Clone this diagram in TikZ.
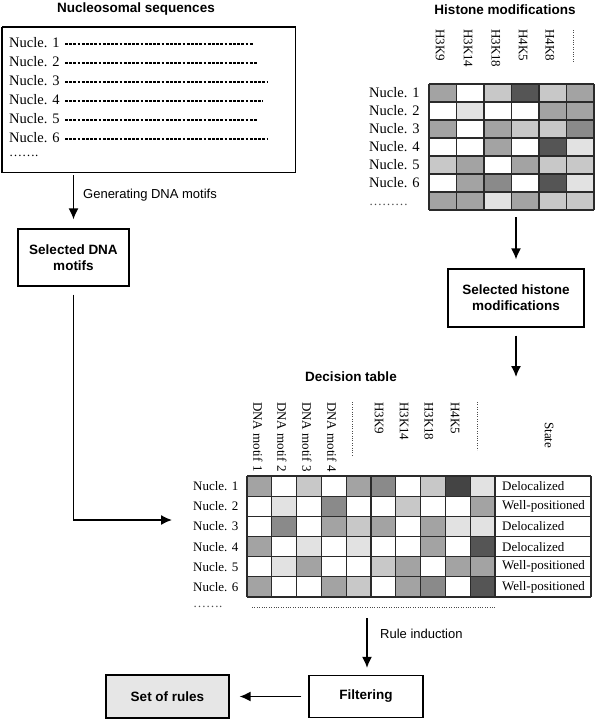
\documentclass[tikz,border=0pt]{standalone}
\usepackage{fontspec}
\setmainfont{Liberation Serif}
\setsansfont{Liberation Sans}
\usetikzlibrary{arrows.meta}
\colorlet{cW}{white}
\definecolor{cV}{HTML}{E2E2E2}
\definecolor{cL}{HTML}{C8C8C8}
\definecolor{cM}{HTML}{A3A3A3}
\definecolor{cK}{HTML}{8A8A8A}
\definecolor{cD}{HTML}{555555}
\definecolor{cX}{HTML}{444444}
\definecolor{rulesfill}{HTML}{E6E6E6}
\definecolor{gridline}{HTML}{2A2A2A}
\begin{document}
\begin{tikzpicture}[x=1pt,y=-1pt,
 box/.style={draw, line width=1.2pt, align=center, font=\sffamily\bfseries\fontsize{13.5}{16}\selectfont, inner sep=0pt},
 arr/.style={line width=1.5pt, -{Latex[length=11pt,width=10pt]}},
 lab/.style={font=\sffamily\fontsize{13}{15}\selectfont, anchor=west, inner sep=0pt},
 ttl/.style={font=\sffamily\bfseries\fontsize{13.5}{15}\selectfont, inner sep=0pt},
 rowlab/.style={font=\fontsize{13}{15}\selectfont, anchor=west, inner sep=0pt},
 biglab/.style={font=\fontsize{14.5}{16}\selectfont, anchor=west, inner sep=0pt},
 vhead/.style={font=\fontsize{13}{15}\selectfont, rotate=-90, anchor=west, inner sep=0pt},
 dotl/.style={line width=0.9pt, dash pattern=on 0.8pt off 1.6pt, black!70},
 gridl/.style={line width=1.1pt, draw=gridline}
]
\useasboundingbox (0,0) rectangle (600,728);

% ---------- Nucleosomal sequences ----------
\node[ttl] (tnuc) at (136,9) {Nucleosomal sequences};
\node[draw, line width=1.3pt, minimum width=293pt, minimum height=145pt, inner sep=0pt, anchor=north west] (nuc) at (2,27) {};
\draw[line width=2.2pt] (nuc.north west) -- (nuc.north east);
\draw[line width=2.2pt] (nuc.north west) -- (nuc.south west);
\foreach \t/\y/\e in {1/43/253, 2/62/258, 3/81/268, 4/100/263, 5/119/258, 6/138/268} {
  \node[biglab] (n\t) at (9,\y) {Nucle. \t};
  \draw[line width=1.1pt, dash pattern=on 2.8pt off 1.4pt] (65,\y+1) -- (\e,\y+1);
}
\node[biglab, font=\fontsize{13}{15}\selectfont] (n7) at (9,156) {…….};

% ---------- Histone modifications ----------
\node[ttl] (thist) at (505,10) {Histone modifications};
\foreach \h/\x in {H3K9/440, H3K14/468, H3K18/496, H4K5/523, H4K8/550} {
  \node[vhead] (hh\h) at (\x,29) {\h};
}
\draw[dotl] (573,30) -- (573,62);
\foreach \row [count=\r from 0] in {{M,W,L,D,L,M},{W,V,W,W,M,M},{M,W,M,L,L,K},{W,W,M,W,D,V},{L,M,W,M,L,L},{W,M,K,W,D,V},{M,M,V,M,L,L}}{
  \foreach \c [count=\k from 0] in \row {
    \fill[c\c] (429+27.5*\k, 84+18*\r) rectangle ++(27.5,18);
  }
}
\foreach \k in {0,...,6} \draw[gridl] (429+27.5*\k,84) -- ++(0,126);
\foreach \r in {0,...,7} \draw[gridl] (429,84+18*\r) -- ++(165,0);
\node[minimum width=165pt, minimum height=126pt, inner sep=0pt, anchor=north west] (hgrid) at (429,84) {};
\foreach \r in {1,...,6} {
  \node[biglab] (hl\r) at (369,75+18*\r) {Nucle. \r};
}
\node[rowlab, text=black!70] (hl7) at (369,205) {………};

% ---------- boxes ----------
\node[box, minimum width=111pt, minimum height=57pt] (dna) at (73.5,257.5) {Selected DNA\\motifs};
\node[box, minimum width=136pt, minimum height=58pt] (hbox) at (516,298) {Selected histone\\modifications};
\node[box, minimum width=114pt, minimum height=42pt] (filt) at (366,696.5) {Filtering};
\node[box, minimum width=123pt, minimum height=43pt, fill=rulesfill] (rules) at (167.5,696.5) {Set of rules};

% ---------- Decision table ----------
\node[ttl] (tdec) at (351,377) {Decision table};
\foreach \h/\x in {DNA motif 1/258, DNA motif 2/282, DNA motif 3/307, DNA motif 4/332, H3K9/379, H3K14/404, H3K18/429, H4K5/455} {
  \node[vhead] at (\x,402) {\h};
}
\node[vhead] (dstate) at (549,422) {State};
\draw[dotl] (352,402) -- (352,455);
\draw[dotl] (477,402) -- (477,450);
\foreach \row [count=\r from 0] in {{M,W,L,W,M,K,W,L,X,V},{W,V,W,K,W,W,L,W,W,M},{W,K,W,M,L,M,W,M,V,V},{M,W,V,W,V,W,W,M,W,D},{W,V,M,W,W,L,M,W,M,M},{M,W,W,M,L,W,M,K,W,D}}{
  \foreach \c [count=\k from 0] in \row {
    \fill[c\c] (247+24.8*\k, 476+20.17*\r) rectangle ++(24.8,20.17);
  }
}
\foreach \k in {0,...,10} \draw[gridl] (247+24.8*\k,476) -- ++(0,121);
\draw[gridl] (591,476) -- ++(0,121);
\foreach \r in {0,...,6} \draw[gridl] (247,476+20.17*\r) -- (591,476+20.17*\r);
\node[minimum width=344pt, minimum height=121pt, inner sep=0pt, anchor=north west] (dgrid) at (247,476) {};
\foreach \r in {1,...,6} {
  \node[rowlab] (dl\r) at (193,465.9+20.17*\r) {Nucle. \r};
}
\foreach \s [count=\r] in {Delocalized, Well-positioned, Delocalized, Delocalized, Well-positioned, Well-positioned} {
  \node[rowlab] (st\r) at (502,465.9+20.17*\r) {\s};
}
\node[rowlab, text=black!70] (dl7) at (193,607) {…….};
\draw[dotl] (252,607) -- (495,607);

% ---------- connectors ----------
\coordinate (dtop) at (516,377);
\coordinate (dtin) at (172,520);
\coordinate (ri) at (367,618);
\draw[arr, shorten <=2pt, shorten >=9pt] (nuc.south -| dna.north) -- (dna.north);
\node[lab] (lgen) at (83,195) {Generating DNA motifs};
\draw[arr, shorten <=8pt] (dna.south) |- (dtin);
\draw[arr, shorten <=7pt, shorten >=9pt] (hgrid.south -| hbox.north) -- (hbox.north);
\draw[arr, shorten <=8pt] (hbox.south) -- (dtop);
\draw[arr, shorten >=7pt] (ri) -- (ri |- filt.north);
\node[lab] (lrule) at (380,634) {Rule induction};
\draw[arr, shorten <=7pt, shorten >=10pt] (filt.west) -- (filt.west -| rules.east);
\end{tikzpicture}
\end{document}
